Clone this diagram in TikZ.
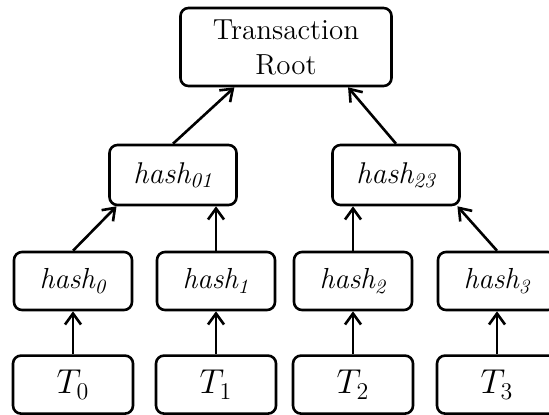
\documentclass[tikz,border=0pt]{standalone}
\usepackage{tikz}
\usetikzlibrary{arrows.meta, positioning}

\begin{document}
\begin{tikzpicture}[
    x=0.5pt, y=-0.5pt,
    box/.style={rectangle, draw=black, line width=1.3pt, rounded corners=4pt, fill=white, inner sep=0pt, align=center},
    rootbox/.style={box, minimum width=105.5pt, minimum height=39pt, font=\fontsize{14.5}{17.5}\selectfont},
    midbox/.style={box, minimum width=63.5pt, minimum height=30pt, font=\fontsize{15}{16}\selectfont\itshape},
    hashbox/.style={box, minimum width=59pt, minimum height=29pt, font=\fontsize{14.5}{16}\selectfont\itshape},
    txbox/.style={box, minimum width=60pt, minimum height=29pt, font=\fontsize{18.5}{20}\selectfont},
    arrow/.style={-{Straight Barb[length=5.5pt, width=8pt, line width=1.3pt]}, line width=1.3pt},
    node distance=21.5pt
]
\clip (0,0) rectangle (549,414);
\useasboundingbox (0,0) rectangle (549,414);

\node[rootbox] (root) at (286,47) {Transaction\\Root};

\node[midbox] (h01) at (173,175) {hash\textsubscript{01}};
\node[midbox] (h23) at (396,175) {hash\textsubscript{23}};

\node[hashbox] (h0) at (73,281) {hash\textsubscript{0}};
\node[hashbox] (h1) at (216,281) {hash\textsubscript{1}};
\node[hashbox] (h2) at (353,281) {hash\textsubscript{2}};
\node[hashbox] (h3) at (497,281) {hash\textsubscript{3}};

\node[txbox, below=of h0] (t0) {$T_0$};
\node[txbox, below=of h1] (t1) {$T_1$};
\node[txbox, below=of h2] (t2) {$T_2$};
\node[txbox, below=of h3] (t3) {$T_3$};

% Arrows
\draw[arrow] (t0) -- (h0);
\draw[arrow] (t1) -- (h1);
\draw[arrow] (t2) -- (h2);
\draw[arrow] (t3) -- (h3);
\draw[arrow] (h0.north) -- (h01.-151);
\draw[arrow] (h1.north) -- (h1.north |- h01.south);
\draw[arrow] (h2.north) -- (h2.north |- h23.south);
\draw[arrow] (h3.north) -- (h23.-27);
\draw[arrow] (h01.north) -- (root.-142.6);
\draw[arrow] (h23.north) -- (root.-33.5);

\end{tikzpicture}
\end{document}
